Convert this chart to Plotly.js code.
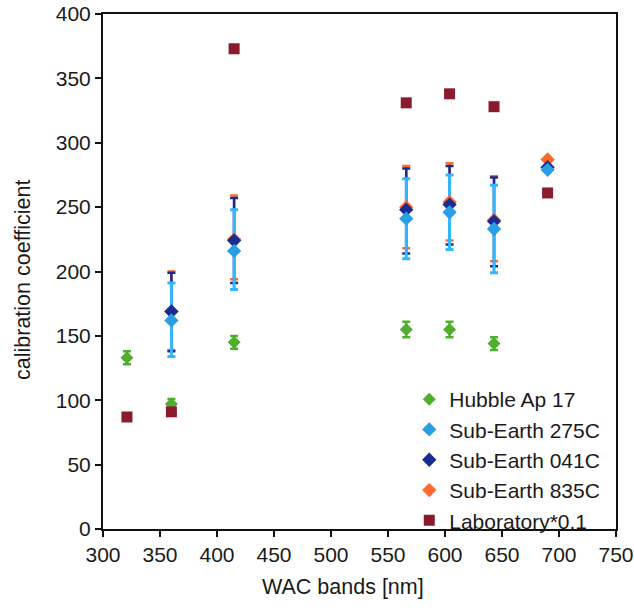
<!DOCTYPE html>
<html>
<head>
<meta charset="utf-8">
<script src="https://cdn.plot.ly/plotly-3.0.1.min.js"></script>
<style>html,body{margin:0;padding:0;background:#fff;}#chart{width:634px;height:610px;}</style>
</head>
<body>
<div id="chart"></div>
<script>
// Wavelengths of WAC bands [nm]
const bandsHubble = [321, 360, 415, 566, 604, 643];
const hubble      = [133, 97, 145, 155, 155, 144];
const hubbleErr   = [5, 4, 5, 6, 6, 5];

const bandsSub = [360, 415, 566, 604, 643, 690];
const sub275   = [162, 216, 241, 246, 233, 279];
const sub275Hi = [191, 248, 272, 275, 267, null];
const sub275Lo = [134, 186, 210, 217, 199, null];

const sub041   = [169, 224, 248, 252, 239, 281];
const sub041Hi = [199, 257, 280, 282, 273, null];
const sub041Lo = [138, 191, 214, 221, 204, null];

const sub835   = [169, 225, 250, 254, 240, 287];
const sub835Hi = [200, 259, 282, 284, 274, null];
const sub835Lo = [139, 194, 218, 224, 208, null];

const bandsLab = [321, 360, 415, 566, 604, 643, 690];
const lab      = [87, 91, 373, 331, 338, 328, 261];

const xTicks = [300, 350, 400, 450, 500, 550, 600, 650, 700, 750];
const yTicks = [0, 50, 100, 150, 200, 250, 300, 350, 400];

const names = ["Hubble Ap 17", "Sub-Earth 275C", "Sub-Earth 041C", "Sub-Earth 835C", "Laboratory*0.1"];
const xTitle = "WAC bands [nm]";
const yTitle = "calibration coefficient";

const colors = {
  hubble: "#4fae2c",
  s275: "#2a9ee2",
  s275err: "#33b8ff",
  s041: "#1c2a94",
  s835: "#ff6a2c",
  lab: "#8c1a2e"
};

function errArrays(v, hi, lo) {
  return {
    plus: v.map((y, i) => hi[i] == null ? 0 : hi[i] - y),
    minus: v.map((y, i) => lo[i] == null ? 0 : y - lo[i])
  };
}
const e275 = errArrays(sub275, sub275Hi, sub275Lo);
const e041 = errArrays(sub041, sub041Hi, sub041Lo);
const e835 = errArrays(sub835, sub835Hi, sub835Lo);

function errTrace(x, y, e, color, thick) {
  return {
    x: x, y: y, type: "scatter", mode: "markers",
    marker: {size: 1, opacity: 0}, showlegend: false, hoverinfo: "skip",
    error_y: {type: "data", symmetric: false, array: e.plus, arrayminus: e.minus,
      color: color, thickness: thick, width: 4}
  };
}

const traces = [
  errTrace(bandsSub, sub835, e835, colors.s835, 2.5),
  errTrace(bandsSub, sub041, e041, colors.s041, 2.5),
  errTrace(bandsSub, sub275, e275, colors.s275err, 3),
  {
    x: bandsHubble, y: hubble, type: "scatter", mode: "markers", name: names[0], legendrank: 1,
    marker: {symbol: "diamond", size: 10, color: colors.hubble},
    error_y: {type: "data", array: hubbleErr, color: colors.hubble, thickness: 2.5, width: 4}
  },
  {
    x: bandsSub, y: sub835, type: "scatter", mode: "markers", name: names[3], legendrank: 4,
    marker: {symbol: "diamond", size: 11, color: colors.s835}
  },
  {
    x: bandsSub, y: sub041, type: "scatter", mode: "markers", name: names[2], legendrank: 3,
    marker: {symbol: "diamond", size: 11, color: colors.s041}
  },
  {
    x: bandsSub, y: sub275, type: "scatter", mode: "markers", name: names[1], legendrank: 2,
    marker: {symbol: "diamond", size: 11, color: colors.s275}
  },
  {
    x: bandsLab, y: lab, type: "scatter", mode: "markers", name: names[4], legendrank: 5,
    marker: {symbol: "square", size: 11, color: colors.lab}
  }
];

const layout = {
  width: 634, height: 610,
  margin: {l: 103, r: 18, t: 14, b: 81},
  paper_bgcolor: "#fff", plot_bgcolor: "#fff",
  font: {family: "Liberation Sans, Arial, sans-serif", size: 21, color: "#1a1a1a"},
  showlegend: true,
  legend: {x: 0.597, y: 0.134, xanchor: "left", yanchor: "middle", bgcolor: "rgba(0,0,0,0)",
    font: {size: 21, color: "#1a1a1a"}, itemwidth: 30, traceorder: "normal", tracegroupgap: 0},
  xaxis: {
    range: [300, 750], tickvals: xTicks,
    showgrid: false, zeroline: false, showline: true, mirror: true, linecolor: "#111", linewidth: 2,
    ticks: "outside", ticklen: 6, tickwidth: 2, tickcolor: "#111", tickfont: {size: 21}
  },
  yaxis: {
    range: [0, 400], tickvals: yTicks,
    showgrid: false, zeroline: false, showline: true, mirror: true, linecolor: "#111", linewidth: 2,
    ticks: "outside", ticklen: 6, tickwidth: 2, tickcolor: "#111", tickfont: {size: 21}
  },
  annotations: [
    {text: xTitle, xref: "paper", yref: "paper", x: 0.468, y: -0.1126,
     xanchor: "center", yanchor: "middle", showarrow: false, font: {size: 21.5, color: "#1a1a1a"}},
    {text: yTitle, xref: "paper", yref: "paper", x: -0.156, y: 0.4835, textangle: -90,
     xanchor: "center", yanchor: "middle", showarrow: false, font: {size: 21.5, color: "#1a1a1a"}}
  ]
};

Plotly.newPlot("chart", traces, layout, {displayModeBar: false, staticPlot: true});
</script>
</body>
</html>
